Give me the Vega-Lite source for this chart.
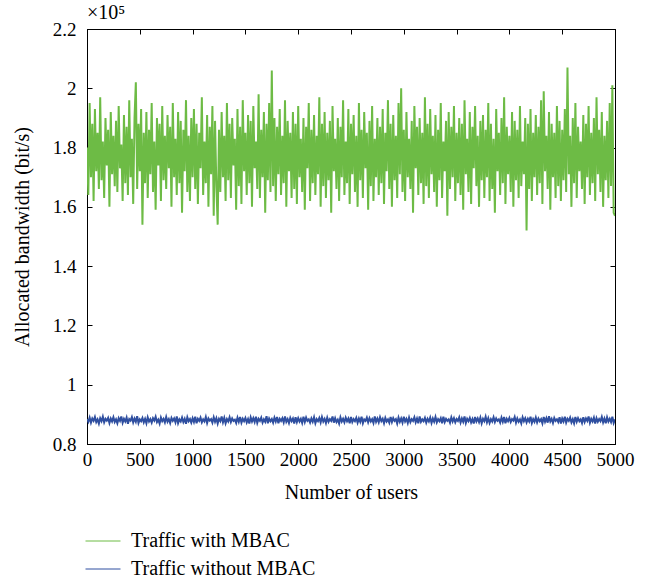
{
"$schema":"https://vega.github.io/schema/vega-lite/v6.json",
"width":528,"height":415,"autosize":"none",
"padding":{"left":87,"top":29,"right":45,"bottom":140},
"background":"white",
"config":{"view":{"stroke":"black","strokeWidth":1},"font":"Liberation Serif",
"axis":{"grid":false,"domainColor":"black","tickColor":"black","labelColor":"black","titleColor":"black","labelFontSize":19,"titleFontSize":20,"titleFontWeight":"normal","tickSize":-5,"labelFont":"Liberation Serif","titleFont":"Liberation Serif","labelOverlap":false,"labelFlush":false},
"legend":{"labelFont":"Liberation Serif"}},
"title":{"text":"×10⁵","anchor":"start","frame":"group","fontSize":20,"fontWeight":"normal","offset":6,"dy":9,"color":"black","font":"Liberation Serif"},
"data":{"values":[
{"x":0,"g":1.80,"b":0.884},{"x":12.5,"g":1.64,"b":0.875},{"x":25,"g":1.95,"b":0.889},{"x":37.5,"g":1.70,"b":0.872},{"x":50,"g":1.88,"b":0.886},{"x":62.5,"g":1.62,"b":0.878},{"x":75,"g":1.93,"b":0.891},{"x":87.5,"g":1.72,"b":0.874},{"x":100,"g":1.85,"b":0.883},{"x":112.5,"g":1.66,"b":0.869},{"x":125,"g":1.97,"b":0.887},{"x":137.5,"g":1.69,"b":0.877},{"x":150,"g":1.82,"b":0.892},{"x":162.5,"g":1.63,"b":0.873},{"x":175,"g":1.90,"b":0.885},{"x":187.5,"g":1.74,"b":0.879},{"x":200,"g":1.86,"b":0.888},{"x":212.5,"g":1.60,"b":0.871},{"x":225,"g":1.92,"b":0.886},{"x":237.5,"g":1.71,"b":0.876},
{"x":250,"g":1.84,"b":0.890},{"x":262.5,"g":1.67,"b":0.874},{"x":275,"g":1.89,"b":0.883},{"x":287.5,"g":1.65,"b":0.870},{"x":300,"g":1.94,"b":0.887},{"x":312.5,"g":1.73,"b":0.878},{"x":325,"g":1.81,"b":0.893},{"x":337.5,"g":1.62,"b":0.872},{"x":350,"g":1.91,"b":0.885},{"x":362.5,"g":1.68,"b":0.876},{"x":375,"g":1.87,"b":0.889},{"x":387.5,"g":1.64,"b":0.868},{"x":400,"g":1.96,"b":0.884},{"x":412.5,"g":1.70,"b":0.879},{"x":425,"g":1.83,"b":0.891},{"x":437.5,"g":1.61,"b":0.873},{"x":450,"g":1.90,"b":0.886},{"x":462.5,"g":2.02,"b":0.875},{"x":475,"g":1.66,"b":0.894},{"x":487.5,"g":1.88,"b":0.871},
{"x":500,"g":1.72,"b":0.883},{"x":512.5,"g":1.93,"b":0.877},{"x":525,"g":1.54,"b":0.888},{"x":537.5,"g":1.85,"b":0.873},{"x":550,"g":1.68,"b":0.885},{"x":562.5,"g":1.92,"b":0.870},{"x":575,"g":1.63,"b":0.890},{"x":587.5,"g":1.86,"b":0.876},{"x":600,"g":1.71,"b":0.884},{"x":612.5,"g":1.95,"b":0.872},{"x":625,"g":1.65,"b":0.887},{"x":637.5,"g":1.82,"b":0.879},{"x":650,"g":1.59,"b":0.892},{"x":662.5,"g":1.90,"b":0.874},{"x":675,"g":1.74,"b":0.882},{"x":687.5,"g":1.88,"b":0.869},{"x":700,"g":1.62,"b":0.889},{"x":712.5,"g":1.94,"b":0.877},{"x":725,"g":1.69,"b":0.885},{"x":737.5,"g":1.84,"b":0.873},
{"x":750,"g":1.66,"b":0.891},{"x":762.5,"g":1.91,"b":0.875},{"x":775,"g":1.73,"b":0.884},{"x":787.5,"g":1.87,"b":0.871},{"x":800,"g":1.60,"b":0.888},{"x":812.5,"g":1.95,"b":0.878},{"x":825,"g":1.70,"b":0.886},{"x":837.5,"g":1.83,"b":0.873},{"x":850,"g":1.64,"b":0.893},{"x":862.5,"g":1.92,"b":0.870},{"x":875,"g":1.68,"b":0.883},{"x":887.5,"g":1.89,"b":0.876},{"x":900,"g":1.58,"b":0.889},{"x":912.5,"g":1.86,"b":0.874},{"x":925,"g":1.72,"b":0.885},{"x":937.5,"g":1.96,"b":0.868},{"x":950,"g":1.65,"b":0.890},{"x":962.5,"g":1.84,"b":0.877},{"x":975,"g":1.62,"b":0.884},{"x":987.5,"g":1.90,"b":0.872},
{"x":1000,"g":1.70,"b":0.887},{"x":1012.5,"g":1.93,"b":0.874},{"x":1025,"g":1.66,"b":0.892},{"x":1037.5,"g":1.88,"b":0.870},{"x":1050,"g":1.61,"b":0.885},{"x":1062.5,"g":1.85,"b":0.878},{"x":1075,"g":1.73,"b":0.889},{"x":1087.5,"g":1.97,"b":0.873},{"x":1100,"g":1.64,"b":0.883},{"x":1112.5,"g":1.82,"b":0.876},{"x":1125,"g":1.68,"b":0.891},{"x":1137.5,"g":1.91,"b":0.871},{"x":1150,"g":1.60,"b":0.886},{"x":1162.5,"g":1.87,"b":0.879},{"x":1175,"g":1.71,"b":0.884},{"x":1187.5,"g":1.94,"b":0.872},{"x":1200,"g":1.57,"b":0.890},{"x":1212.5,"g":1.89,"b":0.875},{"x":1225,"g":1.67,"b":0.887},{"x":1237.5,"g":1.54,"b":0.869},
{"x":1250,"g":1.86,"b":0.885},{"x":1262.5,"g":1.65,"b":0.877},{"x":1275,"g":1.92,"b":0.893},{"x":1287.5,"g":1.70,"b":0.873},{"x":1300,"g":1.84,"b":0.888},{"x":1312.5,"g":1.62,"b":0.870},{"x":1325,"g":1.95,"b":0.884},{"x":1337.5,"g":1.69,"b":0.876},{"x":1350,"g":1.88,"b":0.890},{"x":1362.5,"g":1.63,"b":0.874},{"x":1375,"g":1.90,"b":0.886},{"x":1387.5,"g":1.74,"b":0.878},{"x":1400,"g":1.83,"b":0.882},{"x":1412.5,"g":1.59,"b":0.871},{"x":1425,"g":1.93,"b":0.889},{"x":1437.5,"g":1.67,"b":0.875},{"x":1450,"g":1.87,"b":0.891},{"x":1462.5,"g":1.61,"b":0.872},{"x":1475,"g":1.96,"b":0.885},{"x":1487.5,"g":1.72,"b":0.877},
{"x":1500,"g":1.85,"b":0.888},{"x":1512.5,"g":1.64,"b":0.873},{"x":1525,"g":1.91,"b":0.884},{"x":1537.5,"g":1.68,"b":0.869},{"x":1550,"g":1.89,"b":0.890},{"x":1562.5,"g":1.60,"b":0.876},{"x":1575,"g":1.94,"b":0.887},{"x":1587.5,"g":1.73,"b":0.874},{"x":1600,"g":1.82,"b":0.892},{"x":1612.5,"g":1.66,"b":0.871},{"x":1625,"g":1.98,"b":0.885},{"x":1637.5,"g":1.63,"b":0.878},{"x":1650,"g":1.86,"b":0.889},{"x":1662.5,"g":1.70,"b":0.872},{"x":1675,"g":1.92,"b":0.883},{"x":1687.5,"g":1.58,"b":0.875},{"x":1700,"g":1.88,"b":0.894},{"x":1712.5,"g":1.69,"b":0.870},{"x":1725,"g":1.95,"b":0.886},{"x":1737.5,"g":1.65,"b":0.877},
{"x":1750,"g":2.06,"b":0.884},{"x":1762.5,"g":1.67,"b":0.872},{"x":1775,"g":1.90,"b":0.889},{"x":1787.5,"g":1.62,"b":0.876},{"x":1800,"g":1.87,"b":0.891},{"x":1812.5,"g":1.71,"b":0.870},{"x":1825,"g":1.93,"b":0.885},{"x":1837.5,"g":1.64,"b":0.878},{"x":1850,"g":1.84,"b":0.887},{"x":1862.5,"g":1.68,"b":0.873},{"x":1875,"g":1.96,"b":0.893},{"x":1887.5,"g":1.60,"b":0.875},{"x":1900,"g":1.89,"b":0.884},{"x":1912.5,"g":1.72,"b":0.871},{"x":1925,"g":1.85,"b":0.888},{"x":1937.5,"g":1.63,"b":0.877},{"x":1950,"g":1.92,"b":0.886},{"x":1962.5,"g":1.66,"b":0.869},{"x":1975,"g":1.88,"b":0.890},{"x":1987.5,"g":1.61,"b":0.874},
{"x":2000,"g":1.94,"b":0.887},{"x":2012.5,"g":1.70,"b":0.876},{"x":2025,"g":1.83,"b":0.885},{"x":2037.5,"g":1.65,"b":0.871},{"x":2050,"g":1.90,"b":0.892},{"x":2062.5,"g":1.59,"b":0.874},{"x":2075,"g":1.87,"b":0.889},{"x":2087.5,"g":1.73,"b":0.878},{"x":2100,"g":1.95,"b":0.883},{"x":2112.5,"g":1.62,"b":0.872},{"x":2125,"g":1.86,"b":0.886},{"x":2137.5,"g":1.68,"b":0.875},{"x":2150,"g":1.91,"b":0.890},{"x":2162.5,"g":1.64,"b":0.870},{"x":2175,"g":1.84,"b":0.884},{"x":2187.5,"g":1.71,"b":0.877},{"x":2200,"g":1.97,"b":0.888},{"x":2212.5,"g":1.60,"b":0.873},{"x":2225,"g":1.88,"b":0.891},{"x":2237.5,"g":1.67,"b":0.876},
{"x":2250,"g":1.92,"b":0.885},{"x":2262.5,"g":1.63,"b":0.871},{"x":2275,"g":1.85,"b":0.889},{"x":2287.5,"g":1.69,"b":0.875},{"x":2300,"g":1.89,"b":0.884},{"x":2312.5,"g":1.58,"b":0.878},{"x":2325,"g":1.94,"b":0.893},{"x":2337.5,"g":1.72,"b":0.872},{"x":2350,"g":1.83,"b":0.887},{"x":2362.5,"g":1.66,"b":0.874},{"x":2375,"g":1.90,"b":0.882},{"x":2387.5,"g":1.62,"b":0.869},{"x":2400,"g":1.87,"b":0.890},{"x":2412.5,"g":1.70,"b":0.876},{"x":2425,"g":1.96,"b":0.885},{"x":2437.5,"g":1.64,"b":0.873},{"x":2450,"g":1.82,"b":0.889},{"x":2462.5,"g":1.68,"b":0.877},{"x":2475,"g":1.93,"b":0.886},{"x":2487.5,"g":1.61,"b":0.870},
{"x":2500,"g":1.88,"b":0.891},{"x":2512.5,"g":1.71,"b":0.874},{"x":2525,"g":1.91,"b":0.884},{"x":2537.5,"g":1.65,"b":0.877},{"x":2550,"g":1.84,"b":0.888},{"x":2562.5,"g":1.60,"b":0.872},{"x":2575,"g":1.95,"b":0.886},{"x":2587.5,"g":1.69,"b":0.875},{"x":2600,"g":1.86,"b":0.892},{"x":2612.5,"g":1.63,"b":0.870},{"x":2625,"g":1.92,"b":0.883},{"x":2637.5,"g":1.73,"b":0.878},{"x":2650,"g":1.85,"b":0.889},{"x":2662.5,"g":1.59,"b":0.873},{"x":2675,"g":1.89,"b":0.887},{"x":2687.5,"g":1.67,"b":0.876},{"x":2700,"g":1.94,"b":0.884},{"x":2712.5,"g":1.62,"b":0.871},{"x":2725,"g":1.83,"b":0.893},{"x":2737.5,"g":1.70,"b":0.875},
{"x":2750,"g":1.90,"b":0.886},{"x":2762.5,"g":1.64,"b":0.873},{"x":2775,"g":1.87,"b":0.890},{"x":2787.5,"g":1.68,"b":0.877},{"x":2800,"g":1.93,"b":0.885},{"x":2812.5,"g":1.61,"b":0.870},{"x":2825,"g":1.85,"b":0.888},{"x":2837.5,"g":1.72,"b":0.876},{"x":2850,"g":1.96,"b":0.883},{"x":2862.5,"g":1.66,"b":0.872},{"x":2875,"g":1.88,"b":0.891},{"x":2887.5,"g":1.60,"b":0.874},{"x":2900,"g":1.91,"b":0.887},{"x":2912.5,"g":1.69,"b":0.878},{"x":2925,"g":1.84,"b":0.884},{"x":2937.5,"g":1.63,"b":0.869},{"x":2950,"g":1.95,"b":0.889},{"x":2962.5,"g":1.71,"b":0.875},{"x":2975,"g":2.00,"b":0.886},{"x":2987.5,"g":1.65,"b":0.872},
{"x":3000,"g":1.86,"b":0.892},{"x":3012.5,"g":1.62,"b":0.876},{"x":3025,"g":1.92,"b":0.885},{"x":3037.5,"g":1.70,"b":0.871},{"x":3050,"g":1.83,"b":0.889},{"x":3062.5,"g":1.66,"b":0.874},{"x":3075,"g":1.89,"b":0.884},{"x":3087.5,"g":1.58,"b":0.878},{"x":3100,"g":1.94,"b":0.890},{"x":3112.5,"g":1.73,"b":0.873},{"x":3125,"g":1.87,"b":0.886},{"x":3137.5,"g":1.64,"b":0.870},{"x":3150,"g":1.90,"b":0.893},{"x":3162.5,"g":1.68,"b":0.875},{"x":3175,"g":1.85,"b":0.883},{"x":3187.5,"g":1.61,"b":0.877},{"x":3200,"g":1.97,"b":0.888},{"x":3212.5,"g":1.67,"b":0.872},{"x":3225,"g":1.88,"b":0.885},{"x":3237.5,"g":1.63,"b":0.876},
{"x":3250,"g":1.93,"b":0.889},{"x":3262.5,"g":1.71,"b":0.871},{"x":3275,"g":1.84,"b":0.886},{"x":3287.5,"g":1.65,"b":0.875},{"x":3300,"g":1.91,"b":0.891},{"x":3312.5,"g":1.60,"b":0.873},{"x":3325,"g":1.86,"b":0.884},{"x":3337.5,"g":1.69,"b":0.877},{"x":3350,"g":1.95,"b":0.887},{"x":3362.5,"g":1.63,"b":0.870},{"x":3375,"g":1.82,"b":0.892},{"x":3387.5,"g":1.72,"b":0.874},{"x":3400,"g":1.89,"b":0.885},{"x":3412.5,"g":1.57,"b":0.878},{"x":3425,"g":1.92,"b":0.883},{"x":3437.5,"g":1.66,"b":0.872},{"x":3450,"g":1.87,"b":0.890},{"x":3462.5,"g":1.70,"b":0.876},{"x":3475,"g":1.94,"b":0.887},{"x":3487.5,"g":1.62,"b":0.873},
{"x":3500,"g":1.85,"b":0.884},{"x":3512.5,"g":1.68,"b":0.878},{"x":3525,"g":1.90,"b":0.890},{"x":3537.5,"g":1.64,"b":0.872},{"x":3550,"g":1.88,"b":0.886},{"x":3562.5,"g":1.59,"b":0.875},{"x":3575,"g":1.96,"b":0.893},{"x":3587.5,"g":1.71,"b":0.871},{"x":3600,"g":1.83,"b":0.885},{"x":3612.5,"g":1.65,"b":0.877},{"x":3625,"g":1.92,"b":0.888},{"x":3637.5,"g":1.61,"b":0.873},{"x":3650,"g":1.87,"b":0.884},{"x":3662.5,"g":1.73,"b":0.869},{"x":3675,"g":1.94,"b":0.891},{"x":3687.5,"g":1.67,"b":0.876},{"x":3700,"g":1.84,"b":0.886},{"x":3712.5,"g":1.60,"b":0.874},{"x":3725,"g":1.89,"b":0.889},{"x":3737.5,"g":1.69,"b":0.870},
{"x":3750,"g":1.91,"b":0.885},{"x":3762.5,"g":1.63,"b":0.877},{"x":3775,"g":1.86,"b":0.892},{"x":3787.5,"g":1.70,"b":0.873},{"x":3800,"g":1.95,"b":0.887},{"x":3812.5,"g":1.62,"b":0.871},{"x":3825,"g":1.88,"b":0.884},{"x":3837.5,"g":1.66,"b":0.876},{"x":3850,"g":1.83,"b":0.890},{"x":3862.5,"g":1.58,"b":0.874},{"x":3875,"g":1.93,"b":0.886},{"x":3887.5,"g":1.72,"b":0.878},{"x":3900,"g":1.85,"b":0.883},{"x":3912.5,"g":1.64,"b":0.872},{"x":3925,"g":1.90,"b":0.889},{"x":3937.5,"g":1.68,"b":0.875},{"x":3950,"g":1.97,"b":0.891},{"x":3962.5,"g":1.61,"b":0.870},{"x":3975,"g":1.87,"b":0.885},{"x":3987.5,"g":1.71,"b":0.877},
{"x":4000,"g":1.84,"b":0.888},{"x":4012.5,"g":1.65,"b":0.874},{"x":4025,"g":1.92,"b":0.884},{"x":4037.5,"g":1.60,"b":0.879},{"x":4050,"g":1.89,"b":0.891},{"x":4062.5,"g":1.69,"b":0.872},{"x":4075,"g":1.86,"b":0.886},{"x":4087.5,"g":1.63,"b":0.875},{"x":4100,"g":1.94,"b":0.883},{"x":4112.5,"g":1.67,"b":0.870},{"x":4125,"g":1.82,"b":0.890},{"x":4137.5,"g":1.71,"b":0.877},{"x":4150,"g":1.90,"b":0.887},{"x":4162.5,"g":1.52,"b":0.873},{"x":4175,"g":1.88,"b":0.885},{"x":4187.5,"g":1.66,"b":0.876},{"x":4200,"g":1.93,"b":0.892},{"x":4212.5,"g":1.62,"b":0.871},{"x":4225,"g":1.85,"b":0.884},{"x":4237.5,"g":1.70,"b":0.875},
{"x":4250,"g":1.91,"b":0.889},{"x":4262.5,"g":1.64,"b":0.873},{"x":4275,"g":1.87,"b":0.886},{"x":4287.5,"g":1.68,"b":0.877},{"x":4300,"g":1.96,"b":0.884},{"x":4312.5,"g":1.61,"b":0.870},{"x":4325,"g":1.99,"b":0.891},{"x":4337.5,"g":1.72,"b":0.875},{"x":4350,"g":1.84,"b":0.887},{"x":4362.5,"g":1.66,"b":0.872},{"x":4375,"g":1.92,"b":0.894},{"x":4387.5,"g":1.59,"b":0.876},{"x":4400,"g":1.88,"b":0.885},{"x":4412.5,"g":1.70,"b":0.871},{"x":4425,"g":1.85,"b":0.888},{"x":4437.5,"g":1.63,"b":0.878},{"x":4450,"g":1.94,"b":0.883},{"x":4462.5,"g":1.67,"b":0.874},{"x":4475,"g":1.89,"b":0.890},{"x":4487.5,"g":1.62,"b":0.869},
{"x":4500,"g":1.86,"b":0.886},{"x":4512.5,"g":1.69,"b":0.876},{"x":4525,"g":1.93,"b":0.892},{"x":4537.5,"g":1.65,"b":0.872},{"x":4550,"g":2.07,"b":0.885},{"x":4562.5,"g":1.71,"b":0.878},{"x":4575,"g":1.84,"b":0.889},{"x":4587.5,"g":1.60,"b":0.873},{"x":4600,"g":1.90,"b":0.884},{"x":4612.5,"g":1.68,"b":0.870},{"x":4625,"g":1.95,"b":0.891},{"x":4637.5,"g":1.63,"b":0.875},{"x":4650,"g":1.87,"b":0.887},{"x":4662.5,"g":1.72,"b":0.877},{"x":4675,"g":1.82,"b":0.883},{"x":4687.5,"g":1.66,"b":0.871},{"x":4700,"g":1.91,"b":0.890},{"x":4712.5,"g":1.61,"b":0.874},{"x":4725,"g":1.88,"b":0.886},{"x":4737.5,"g":1.70,"b":0.878},
{"x":4750,"g":1.94,"b":0.893},{"x":4762.5,"g":1.64,"b":0.872},{"x":4775,"g":1.85,"b":0.885},{"x":4787.5,"g":1.68,"b":0.876},{"x":4800,"g":1.90,"b":0.889},{"x":4812.5,"g":1.62,"b":0.869},{"x":4825,"g":1.97,"b":0.887},{"x":4837.5,"g":1.71,"b":0.875},{"x":4850,"g":1.86,"b":0.884},{"x":4862.5,"g":1.65,"b":0.877},{"x":4875,"g":1.92,"b":0.891},{"x":4887.5,"g":1.60,"b":0.873},{"x":4900,"g":1.84,"b":0.886},{"x":4912.5,"g":1.69,"b":0.870},{"x":4925,"g":1.89,"b":0.890},{"x":4937.5,"g":1.63,"b":0.876},{"x":4950,"g":1.95,"b":0.885},{"x":4962.5,"g":1.67,"b":0.874},{"x":4975,"g":2.01,"b":0.892},{"x":4987.5,"g":1.58,"b":0.871},
{"x":5000,"g":1.57,"b":0.883}
]},
"transform":[{"fold":["g","b"],"as":["k","v"]}],
"layer":[
{"mark":{"type":"line","strokeWidth":2,"clip":true},
"encoding":{
"x":{"field":"x","type":"quantitative","scale":{"domain":[0,5000],"nice":false,"zero":false},"axis":{"orient":"bottom","values":[0,500,1000,1500,2000,2500,3000,3500,4000,4500,5000],"format":"d","labelPadding":11,"title":"Number of users","titlePadding":13}},
"y":{"field":"v","type":"quantitative","scale":{"domain":[0.8,2.2],"nice":false,"zero":false},"axis":{"orient":"left","values":[0.8,1,1.2,1.4,1.6,1.8,2,2.2],"format":"~g","labelPadding":16,"title":"Allocated bandwidth (bit/s)","titlePadding":20}},
"color":{"field":"k","type":"nominal","scale":{"domain":["g","b"],"range":["#6dbb45","#2f4fa0"]},
"legend":{"orient":"none","legendX":-2,"legendY":494,"title":null,"symbolType":"stroke","symbolSize":1225,"symbolStrokeWidth":1,"labelFontSize":20,"labelLimit":400,"labelOffset":10,"labelColor":"black","padding":0,"rowPadding":-1,"labelExpr":"datum.label == 'g' ? 'Traffic with MBAC' : 'Traffic without MBAC'"}}}},
{"mark":{"type":"point","opacity":0},
"encoding":{
"x":{"field":"x","type":"quantitative","axis":{"orient":"top","values":[0,500,1000,1500,2000,2500,3000,3500,4000,4500,5000],"labels":false,"title":null}},
"y":{"field":"v","type":"quantitative","axis":{"orient":"right","values":[0.8,1,1.2,1.4,1.6,1.8,2,2.2],"labels":false,"title":null}}}}
],
"resolve":{"axis":{"x":"independent","y":"independent"}}
}
